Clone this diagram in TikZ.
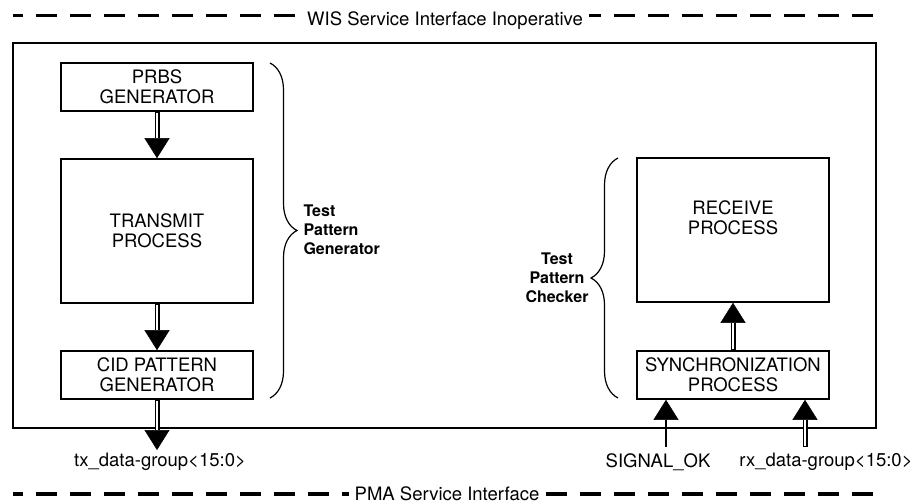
\documentclass[tikz,border=0pt]{standalone}
\usepackage{fontspec}
\setmainfont{TeX Gyre Heros}
\usetikzlibrary{arrows.meta, decorations.pathreplacing, positioning}

\begin{document}
\begin{tikzpicture}[x=1pt, y=-1pt, every node/.style={font=\fontsize{18.5}{20}\selectfont}]

        \useasboundingbox (0,0) rectangle (917,503);

        % Block definitions
        \tikzstyle{block} = [draw, rectangle, line width=1.6pt, minimum width=192pt, align=center, inner sep=0pt]
        \tikzstyle{bus} = [line width=5pt, -{Triangle[length=20pt,width=25pt,line width=0.5pt]}, postaction={draw=white, line width=1.8pt, -, shorten >=20.5pt, shorten <=1.2pt}]
        \tikzstyle{wire} = [line width=1.6pt, -{Triangle[length=20pt,width=25pt,line width=0.5pt]}]
        \tikzstyle{iface} = [line width=3.8pt, dash pattern=on 21pt off 13pt, dash phase=11pt]
        \tikzstyle{ifacelabel} = [fill=white, inner xsep=6pt, inner ysep=1pt, anchor=base]
        \tikzstyle{brace} = [decorate, decoration={brace, amplitude=27pt}, line width=1.2pt]
        \tikzstyle{bracelabel} = [font=\bfseries\fontsize{16}{19}\selectfont]

        % Service interfaces
        \coordinate (wisL) at (13,15.5);
        \coordinate (wisR) at (876,15.5);
        \coordinate (pmaL) at (13,494);
        \coordinate (pmaR) at (876,494);
        \draw[iface] (wisL) -- (wisR);
        \draw[iface] (pmaL) -- (pmaR);
        \node[ifacelabel] (wis) at (445,26) {WIS Service Interface Inoperative};
        \node[ifacelabel] (pma) at (447,500) {PMA Service Interface};

        % Frame
        \node[draw, line width=1.6pt, minimum width=863pt, minimum height=385pt, inner sep=0pt] (frame) at (444.5,235.5) {};

        % Blocks
        \node[block, minimum height=48pt] (prbs) at (157,87) {PRBS\\GENERATOR};
        \node[block, minimum height=144pt] (tx) at (157,231) {TRANSMIT\\PROCESS};
        \node[block, minimum height=48pt] (cid) at (157,375) {CID PATTERN\\GENERATOR};
        \node[block, minimum height=144pt, text depth=24pt] (rx) at (733,230) {RECEIVE\\PROCESS};
        \node[block, minimum height=48pt] (sync) at (733,375) {SYNCHRONIZATION\\PROCESS};

        % Signals
        \node (txlbl) at (160,462) {tx\_data-group<15:0>};
        \node (siglbl) at (658,462) {SIGNAL\_OK};
        \node (rxlbl) at (826,462) {rx\_data-group<15:0>};
        \coordinate (txout) at (157,450);
        \coordinate (sigin) at (666,447);
        \coordinate (rxin) at (805,447);

        % Arrows
        \draw[bus] (prbs) -- (tx);
        \draw[bus] (tx) -- (cid);
        \draw[bus] (cid) -- (txout);
        \draw[bus] (sync) -- (rx);
        \draw[wire] (sigin) -- (sigin |- sync.south);
        \draw[bus] (rxin) -- (rxin |- sync.south);

        % Braces
        \draw[brace] (270,63) -- (270,398);
        \node[bracelabel, anchor=west, align=left] (tpg) at (300,230) {Test\\Pattern\\Generator};
        \draw[brace] (618,398) -- (618,158);
        \node[bracelabel, anchor=east, align=center] (tpc) at (592,278) {Test\\Pattern\\Checker};

    \end{tikzpicture}
\end{document}
